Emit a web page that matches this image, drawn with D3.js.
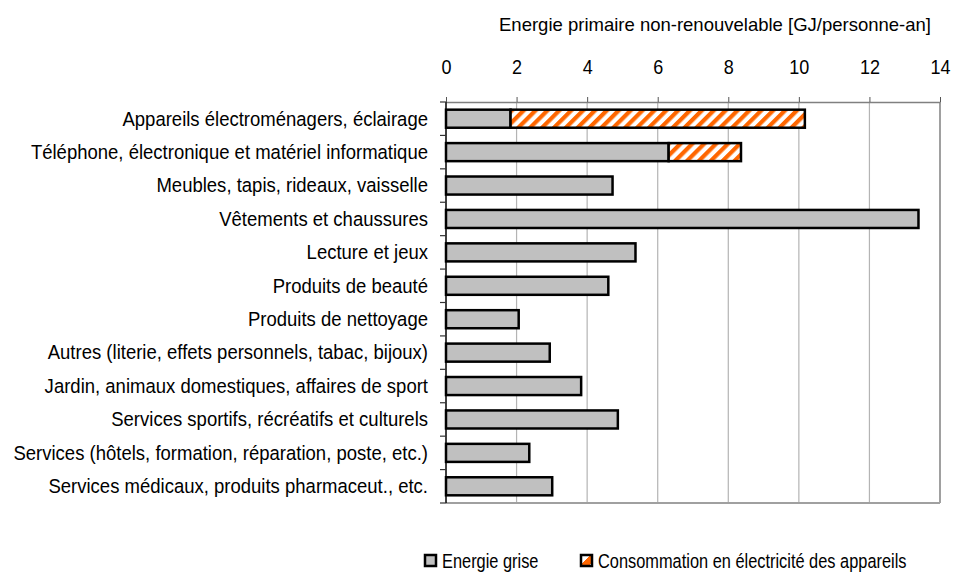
<!DOCTYPE html>
<html>
<head>
<meta charset="utf-8">
<script src="https://cdn.jsdelivr.net/npm/d3@7"></script>
<style>
  body { margin: 0; background: #fff; }
  text { font-family: "Liberation Sans", Arial, sans-serif; fill: #000; }
</style>
</head>
<body>
<svg id="chart"></svg>
<script>
// Categories, top to bottom
const categories = [
  "Appareils électroménagers, éclairage",
  "Téléphone, électronique et matériel informatique",
  "Meubles, tapis, rideaux, vaisselle",
  "Vêtements et chaussures",
  "Lecture et jeux",
  "Produits de beauté ",
  "Produits de nettoyage ",
  "Autres (literie, effets personnels, tabac, bijoux)",
  "Jardin, animaux domestiques, affaires de sport",
  "Services sportifs, récréatifs et culturels",
  "Services (hôtels, formation, réparation, poste, etc.)",
  "Services médicaux, produits pharmaceut., etc."
];
const energieGrise = [1.83, 6.31, 4.72, 13.39, 5.37, 4.6, 2.06, 2.94, 3.83, 4.87, 2.36, 3.01];
const electricite  = [8.34, 2.05, 0, 0, 0, 0, 0, 0, 0, 0, 0, 0];
const xTicks = [0, 2, 4, 6, 8, 10, 12, 14];
const seriesNames = ["Energie grise", "Consommation en électricité des appareils"];

const width = 958, height = 573;
const margin = {top: 102, right: 18, bottom: 70, left: 446};
const innerW = 940 - margin.left;
const innerH = 503 - margin.top;

const svg = d3.select("#chart").attr("width", width).attr("height", height);

// hatch pattern for electricity
const defs = svg.append("defs");
const pat = defs.append("pattern")
  .attr("id", "hatch")
  .attr("patternUnits", "userSpaceOnUse")
  .attr("width", 8.4).attr("height", 8.4)
  .attr("patternTransform", "rotate(45)");
pat.append("rect").attr("width", 8.4).attr("height", 8.4).attr("fill", "#fff");
pat.append("rect").attr("width", 4.2).attr("height", 8.4).attr("fill", "#ff6600");

const lp = defs.append("linearGradient").attr("id", "legendHatch")
  .attr("x1", 0).attr("y1", 0).attr("x2", 1).attr("y2", 1);
[[0, "#fff"], [0.45, "#fff"], [0.45, "#ff6600"], [0.85, "#ff6600"], [0.85, "#fff"], [1, "#fff"]]
  .forEach(([o, c]) => lp.append("stop").attr("offset", o).attr("stop-color", c));

const x = d3.scaleLinear().domain([0, 14]).range([0, innerW]);
const y = d3.scaleBand().domain(categories).range([0, innerH]).paddingInner(0.46).paddingOuter(0.23);
const yBounds = d3.scaleBand().domain(categories).range([0, innerH]);

const g = svg.append("g").attr("transform", `translate(${margin.left},${margin.top})`);

// vertical gridlines
g.append("g").selectAll("line")
  .data(xTicks.slice(1))
  .join("line")
  .attr("x1", d => x(d)).attr("x2", d => x(d))
  .attr("y1", 0).attr("y2", innerH)
  .attr("stroke", d => d === 14 ? "#a0a0a0" : "#b4b4b4")
  .attr("stroke-width", d => d === 14 ? 2 : 1.2);

// bottom border
g.append("line")
  .attr("x1", 0).attr("x2", innerW).attr("y1", innerH).attr("y2", innerH)
  .attr("stroke", "#a0a0a0").attr("stroke-width", 2);

// top axis
const xAxis = d3.axisTop(x).tickValues(xTicks).tickSize(5).tickSizeOuter(0).tickFormat(d3.format("d"));
const xAxisG = g.append("g").call(xAxis);
xAxisG.select(".domain").attr("stroke", "#808080").attr("stroke-width", 1.5);
xAxisG.selectAll(".tick line").attr("stroke", "#555");
xAxisG.selectAll(".tick text")
  .attr("y", 0).attr("dy", 0)
  .attr("transform", "translate(0,-28) scale(0.9,1)")
  .attr("font-size", 20)
  .style("font-family", "'Liberation Sans', Arial, sans-serif");

// left axis: ticks at band boundaries
g.append("line")
  .attr("x1", 0).attr("x2", 0).attr("y1", 0).attr("y2", innerH)
  .attr("stroke", "#000").attr("stroke-width", 1.5);
g.append("g").selectAll("line")
  .data(d3.range(categories.length + 1))
  .join("line")
  .attr("x1", -6).attr("x2", 0)
  .attr("y1", i => i < categories.length ? yBounds(categories[i]) : innerH)
  .attr("y2", i => i < categories.length ? yBounds(categories[i]) : innerH)
  .attr("stroke", "#333").attr("stroke-width", 1.2);

// category labels
g.append("g").selectAll("text")
  .data(categories)
  .join("text")
  .attr("transform", d => `translate(-18,${y(d) + y.bandwidth() / 2}) scale(0.95,1)`)
  .attr("dy", "0.35em")
  .attr("text-anchor", "end")
  .attr("font-size", 19.5)
  .text(d => d);

// bars
const rows = categories.map((c, i) => ({c, grise: energieGrise[i], elec: electricite[i]}));
const bars = g.append("g");
bars.selectAll(".grise")
  .data(rows)
  .join("rect")
  .attr("class", "grise")
  .attr("x", x(0))
  .attr("y", d => y(d.c))
  .attr("width", d => x(d.grise) - x(0))
  .attr("height", y.bandwidth())
  .attr("fill", "#c0c0c0")
  .attr("stroke", "#000").attr("stroke-width", 2.5);
bars.selectAll(".elec")
  .data(rows.filter(d => d.elec > 0))
  .join("rect")
  .attr("class", "elec")
  .attr("x", d => x(d.grise))
  .attr("y", d => y(d.c))
  .attr("width", d => x(d.grise + d.elec) - x(d.grise))
  .attr("height", y.bandwidth())
  .attr("fill", "url(#hatch)")
  .attr("stroke", "#000").attr("stroke-width", 2.5);

// axis title
svg.append("text")
  .attr("x", 715).attr("y", 31)
  .attr("text-anchor", "middle")
  .attr("font-size", 18.5)
  .text("Energie primaire non-renouvelable [GJ/personne-an]");

// legend
const legend = svg.append("g").attr("transform", "translate(425,555)");
const legendX = [0, 156];
legend.selectAll("rect")
  .data(seriesNames)
  .join("rect")
  .attr("x", (d, i) => legendX[i])
  .attr("y", 0)
  .attr("width", 11).attr("height", 11)
  .attr("fill", (d, i) => i === 0 ? "#c0c0c0" : "url(#legendHatch)")
  .attr("stroke", "#000").attr("stroke-width", 2.5);
legend.selectAll("text")
  .data(seriesNames)
  .join("text")
  .attr("transform", (d, i) => `translate(${legendX[i] + 17},6) scale(0.84,1)`)
  .attr("dy", "0.35em")
  .attr("font-size", 19.5)
  .text(d => d);
</script>
</body>
</html>
